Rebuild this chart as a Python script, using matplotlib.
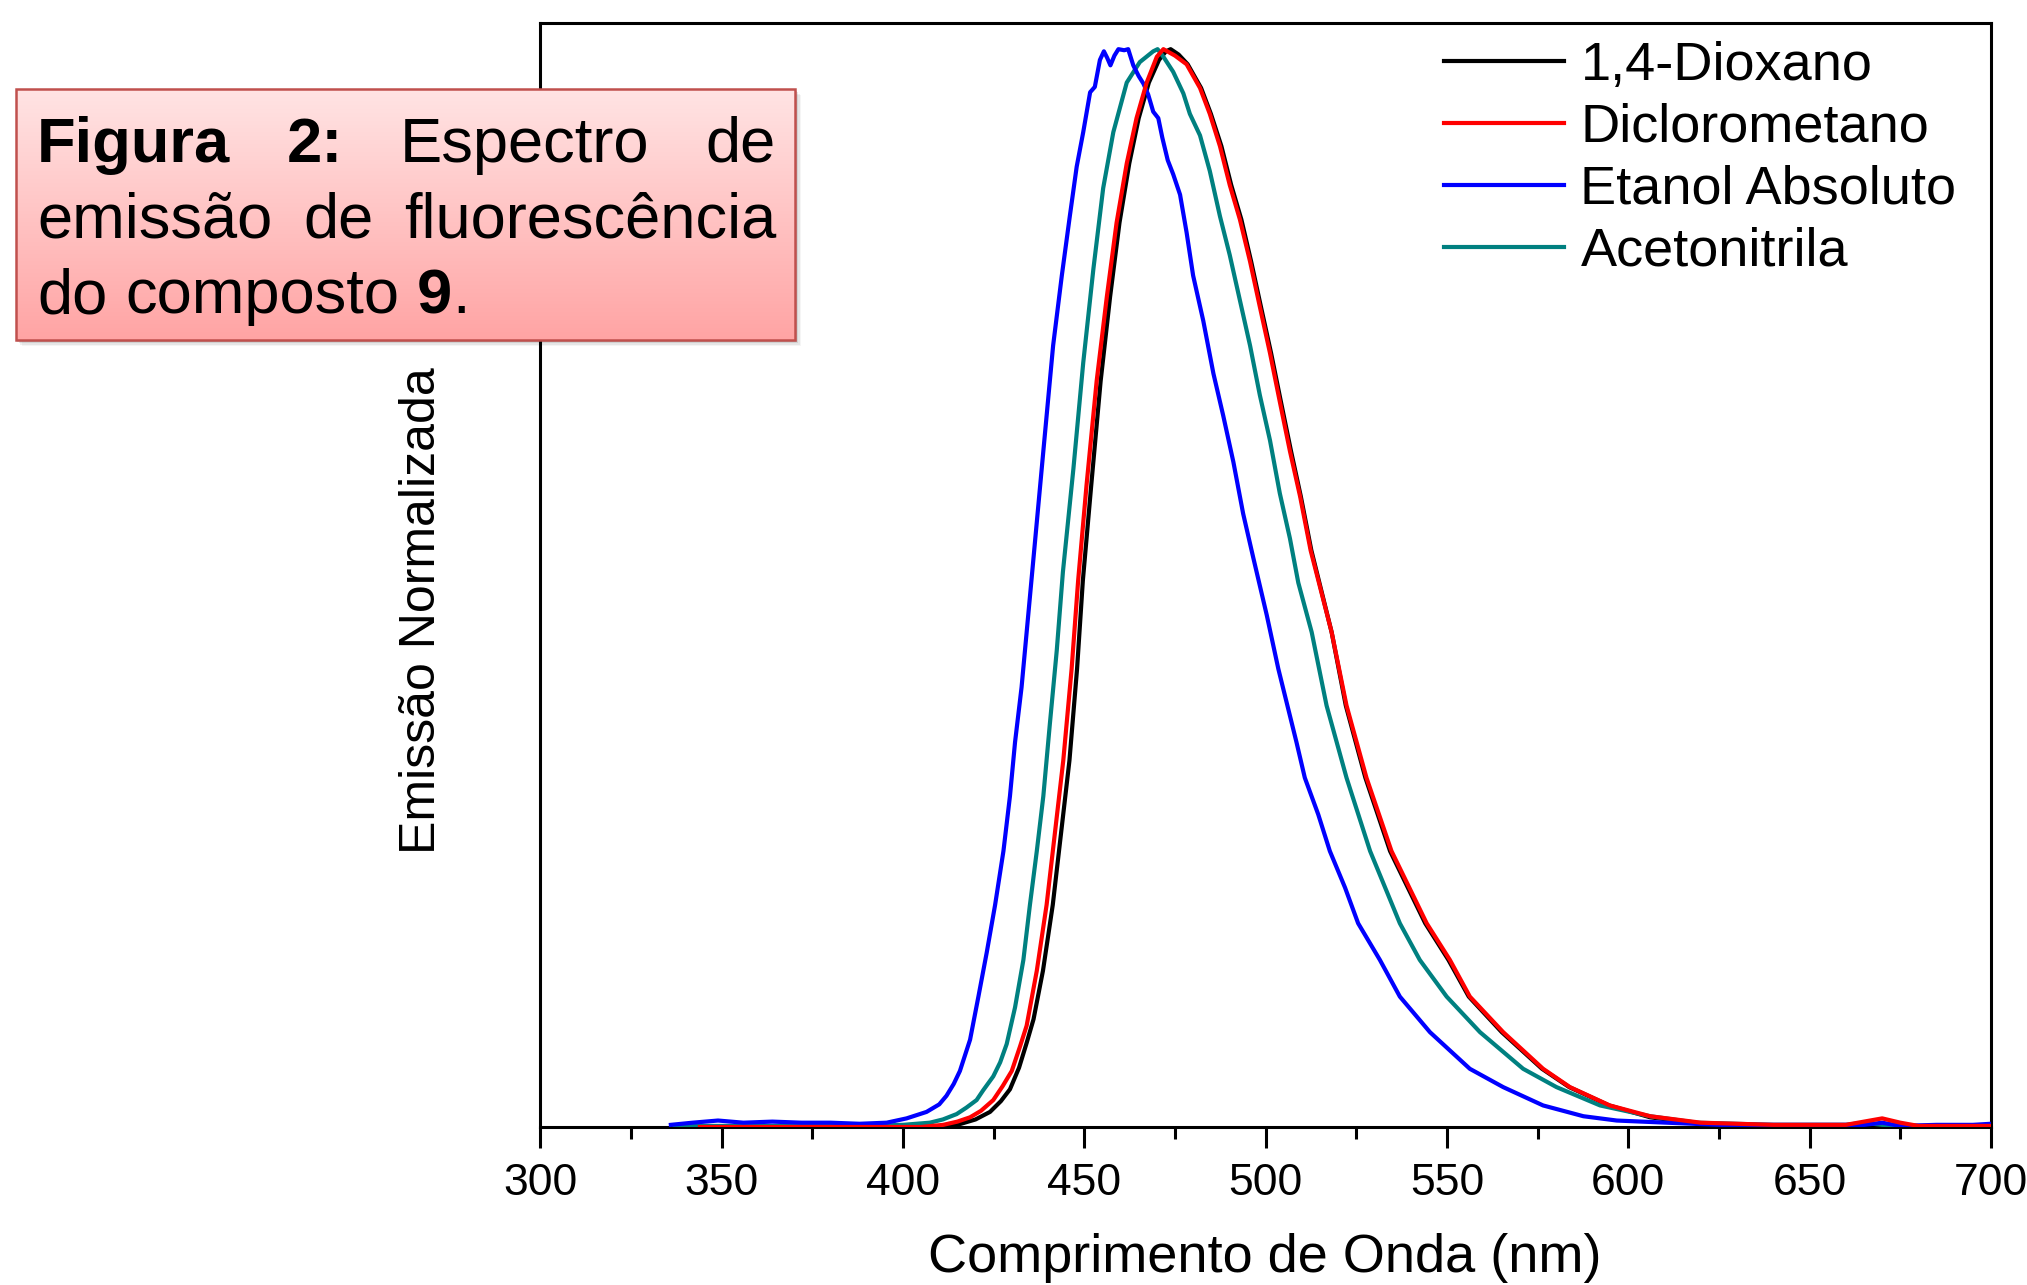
import numpy as np
import matplotlib
matplotlib.use('Agg')
import matplotlib.pyplot as plt
from matplotlib.patches import Rectangle
from matplotlib.ticker import MultipleLocator, NullLocator

plt.rcParams['font.family'] = ['Liberation Sans', 'DejaVu Sans']

W, H, DPI = 2027, 1285, 100

# ---------------- data (wavelength nm, normalised emission) ----------------
labels = ['1,4-Dioxano', 'Diclorometano', 'Etanol Absoluto', 'Acetonitrila']
colors = ['#000000', '#FF0000', '#0000FF', '#008080']

dioxano = [(344, 0.0), (405, 0.0), (413, 0.001), (416, 0.003), (420, 0.007), (424, 0.014),
           (427, 0.024), (429.5, 0.035), (432, 0.055), (434.1, 0.078), (436, 0.100),
           (438.6, 0.145), (441.3, 0.206), (443.6, 0.273), (445.9, 0.340), (448.0, 0.425),
           (449.6, 0.507), (451.9, 0.595), (454.5, 0.692), (457.1, 0.770), (459.7, 0.839),
           (462.4, 0.894), (465.0, 0.936), (467.8, 0.969), (470.6, 0.990), (472.5, 0.998),
           (473.8, 1.0), (476.0, 0.995), (478.5, 0.986), (482.2, 0.964), (484.9, 0.940),
           (487.8, 0.910), (490.5, 0.874), (493.3, 0.842), (496.0, 0.803), (498.7, 0.761),
           (501.5, 0.718), (504.2, 0.673), (507.0, 0.627), (509.7, 0.585), (512.6, 0.535),
           (518.2, 0.459), (522.1, 0.391), (527.5, 0.324), (534.3, 0.256), (544.0, 0.189),
           (550.4, 0.155), (556.0, 0.121), (565.1, 0.088), (576.2, 0.054), (583.7, 0.037),
           (594.7, 0.020), (606, 0.009), (620, 0.003), (640, 0.001), (660, 0.001),
           (670, 0.002), (680, 0.0), (700, 0.0)]

diclorometano = [(344, 0.0), (380, 0.0), (405, 0.0), (411.1, 0.002), (415, 0.005), (418.5, 0.009),
                 (421.5, 0.015), (424.9, 0.025), (427.5, 0.038), (430.0, 0.052), (432.3, 0.075),
                 (434.1, 0.094), (436.9, 0.145), (439.6, 0.206), (441.9, 0.273), (444.2, 0.340),
                 (446.5, 0.425), (448.3, 0.507), (450.6, 0.595), (453.4, 0.692), (456.2, 0.770),
                 (458.9, 0.839), (461.7, 0.894), (464.4, 0.936), (467.2, 0.969), (470.0, 0.993),
                 (471.8, 1.0), (475.0, 0.994), (478.2, 0.986), (481.9, 0.964), (484.6, 0.940),
                 (487.4, 0.910), (490.1, 0.874), (492.9, 0.842), (495.7, 0.803), (498.4, 0.761),
                 (501.2, 0.718), (503.9, 0.673), (506.7, 0.627), (509.5, 0.585), (512.4, 0.535),
                 (518.2, 0.459), (522.3, 0.391), (527.8, 0.324), (534.7, 0.256), (544.4, 0.189),
                 (550.8, 0.155), (556.3, 0.121), (565.5, 0.088), (576.5, 0.054), (583.9, 0.037),
                 (594.9, 0.020), (606.0, 0.010), (620, 0.004), (640, 0.002), (660, 0.002),
                 (665, 0.005), (670, 0.008), (675, 0.004), (680, 0.001), (700, 0.001)]

etanol = [(336, 0.002), (342, 0.004), (349, 0.006), (356, 0.004), (364, 0.005), (372, 0.004),
          (380, 0.004), (388, 0.003), (395.5, 0.004), (401, 0.008), (406.5, 0.014), (410, 0.021),
          (412, 0.029), (414, 0.040), (415.7, 0.052), (418.5, 0.081), (420.8, 0.121),
          (423.1, 0.162), (425.4, 0.206), (427.7, 0.256), (429.5, 0.307), (430.9, 0.357),
          (432.7, 0.408), (434.1, 0.459), (435.5, 0.510), (438.7, 0.627), (441.4, 0.725),
          (443.8, 0.790), (446.0, 0.845), (447.9, 0.891), (449.7, 0.923), (451.6, 0.960),
          (452.9, 0.965), (454.3, 0.990), (455.4, 0.998), (456.3, 0.992), (457.2, 0.985),
          (458.3, 0.994), (459.4, 1.0), (461.0, 0.999), (462.1, 1.0), (463.5, 0.985),
          (465.0, 0.975), (466.3, 0.968), (467.6, 0.958), (469.0, 0.942), (470.4, 0.936),
          (471.5, 0.918), (473.0, 0.897), (474.5, 0.884), (476.4, 0.865), (478.2, 0.830),
          (480.0, 0.790), (482.8, 0.748), (485.6, 0.699), (488.3, 0.660), (491.1, 0.617),
          (493.8, 0.569), (496.6, 0.528), (500.3, 0.475), (503.5, 0.425), (508.5, 0.357),
          (510.8, 0.324), (514.5, 0.290), (517.7, 0.256), (521.9, 0.222), (525.5, 0.189),
          (531.5, 0.155), (537.0, 0.121), (545.3, 0.088), (556.3, 0.054), (565.5, 0.037),
          (576.5, 0.020), (587.6, 0.010), (596.8, 0.006), (610.6, 0.004), (625, 0.002),
          (640, 0.002), (655, 0.002), (665, 0.002), (670, 0.004), (675, 0.001), (685, 0.002),
          (695, 0.002), (700, 0.003)]

acetonitrila = [(337, 0.001), (360, 0.001), (390, 0.001), (400, 0.002), (407.4, 0.004), (411, 0.007),
                (414.8, 0.012), (417.5, 0.018), (420.3, 0.025), (422.1, 0.034), (424.9, 0.047),
                (426.8, 0.060), (428.6, 0.077), (430.9, 0.111), (433.2, 0.155), (435.0, 0.206),
                (436.9, 0.256), (438.7, 0.307), (440.5, 0.374), (442.4, 0.442), (444.1, 0.515),
                (447.0, 0.611), (449.7, 0.709), (452.5, 0.796), (455.2, 0.871), (458.0, 0.923),
                (461.7, 0.969), (465.3, 0.988), (469.0, 0.998), (470.2, 1.0), (471.8, 0.993),
                (474.5, 0.979), (477.3, 0.959), (479.1, 0.940), (481.9, 0.920), (484.6, 0.887),
                (487.4, 0.845), (490.1, 0.809), (492.9, 0.767), (495.7, 0.725), (498.4, 0.679),
                (501.2, 0.637), (503.9, 0.588), (506.7, 0.546), (509.0, 0.505), (512.7, 0.459),
                (516.8, 0.391), (522.3, 0.324), (528.8, 0.256), (537.0, 0.189), (542.5, 0.155),
                (549.9, 0.121), (559.1, 0.088), (571.0, 0.054), (580.2, 0.037), (592.2, 0.020),
                (606, 0.010), (618.8, 0.004), (640, 0.002), (660, 0.002), (665, 0.004),
                (670, 0.002), (680, 0.001), (700, 0.001)]

x_ticks = [300, 350, 400, 450, 500, 550, 600, 650, 700]
x_label = 'Comprimento de Onda (nm)'
y_label = 'Emissão Normalizada'

# ---------------- figure ----------------
fig = plt.figure(figsize=(W / DPI, H / DPI), dpi=DPI)


def fx(px):
    return px / W


def fy(py):
    return 1 - py / H


ax_l, ax_r, ax_t, ax_b = 540.3, 1991.0, 23.3, 1127.0
ax = fig.add_axes([fx(ax_l), fy(ax_b), fx(ax_r - ax_l), (ax_b - ax_t) / H])

series = [dioxano, diclorometano, etanol, acetonitrila]
zorders = [2, 5, 4, 3]
handles = []
for data, lab, col, z in zip(series, labels, colors, zorders):
    xs, ys = zip(*data)
    h, = ax.plot(xs, ys, color=col, lw=3.0, label=lab, zorder=z, solid_joinstyle='round')
    handles.append(h)

ax.set_xlim(300, 700)
ax.set_ylim(0, 1.024)
ax.set_xticks(x_ticks)
ax.xaxis.set_minor_locator(MultipleLocator(25))
ax.yaxis.set_major_locator(NullLocator())
ax.tick_params(axis='x', which='major', direction='out', length=15, width=2.2, pad=11, labelsize=32)
ax.tick_params(axis='x', which='minor', direction='out', length=8.5, width=2.2)
for s in ax.spines.values():
    s.set_linewidth(2.2)

ax.legend(handles=handles, loc='upper left', bbox_to_anchor=(fx(1444), fy(41)),
          bbox_transform=fig.transFigure, frameon=False, fontsize=39, handlelength=2.22,
          handletextpad=0.3, labelspacing=0.22, borderpad=0, borderaxespad=0)

fig.text(fx(1265), fy(1258), x_label, ha='center', va='center', fontsize=39)
fig.text(fx(422), fy(611), y_label, rotation=90, ha='center', va='center', fontsize=36)

# ---------------- caption box ----------------
bx0, bx1, bt, bb = 15.5, 795.0, 89.5, 340.5
for i, a in enumerate([0.12, 0.09, 0.06, 0.04]):
    off = 1.5 + i * 1.5
    fig.patches.append(Rectangle((fx(bx0 + off), fy(bb + off)), fx(bx1 - bx0), (bb - bt) / H,
                                 transform=fig.transFigure, facecolor='black',
                                 edgecolor='none', alpha=a, zorder=4))
gax = fig.add_axes([fx(bx0), fy(bb), fx(bx1 - bx0), (bb - bt) / H], zorder=5)
grad = np.linspace(0, 1, 256)[:, None, None]
top_c = np.array([255, 228, 228]) / 255
bot_c = np.array([255, 164, 164]) / 255
img = top_c[None, None, :] * (1 - grad) + bot_c[None, None, :] * grad
gax.imshow(img, aspect='auto', extent=[0, 1, 0, 1], origin='upper')
gax.set_axis_off()
fig.patches.append(Rectangle((fx(bx0), fy(bb)), fx(bx1 - bx0), (bb - bt) / H,
                             transform=fig.transFigure, facecolor='none',
                             edgecolor='#C0504D', lw=1.8, zorder=6))

renderer = fig.canvas.get_renderer()
CAP_FS = 45.5


def make(s, bold):
    return fig.text(0, 0, s, fontsize=CAP_FS, fontweight='bold' if bold else 'normal',
                    ha='left', va='baseline', zorder=7)


def width(t):
    return t.get_window_extent(renderer=renderer).width


tmp1 = make('a a', False)
tmp2 = make('aa', False)
space_w = width(tmp1) - width(tmp2)
tmp1.remove()
tmp2.remove()

txt_left, txt_right = 37.0, 776.0


def justified(words, base_y):
    ts = [make(w, b) for w, b in words]
    ws = [width(t) for t in ts]
    gap = (txt_right - txt_left - sum(ws)) / (len(ts) - 1)
    x = txt_left
    for t, w in zip(ts, ws):
        t.set_position((fx(x), fy(base_y)))
        x += w + gap


justified([('Figura', True), ('2:', True), ('Espectro', False), ('de', False)], 162)
justified([('emissão', False), ('de', False), ('fluorescência', False)], 237.5)

x = txt_left
for piece, bold, extra in [('do', False, space_w), ('composto', False, space_w),
                           ('9', True, 0.0), ('.', False, 0.0)]:
    t = make(piece, bold)
    t.set_position((fx(x), fy(313)))
    x += width(t) + extra

fig.savefig('out.png', dpi=DPI)
